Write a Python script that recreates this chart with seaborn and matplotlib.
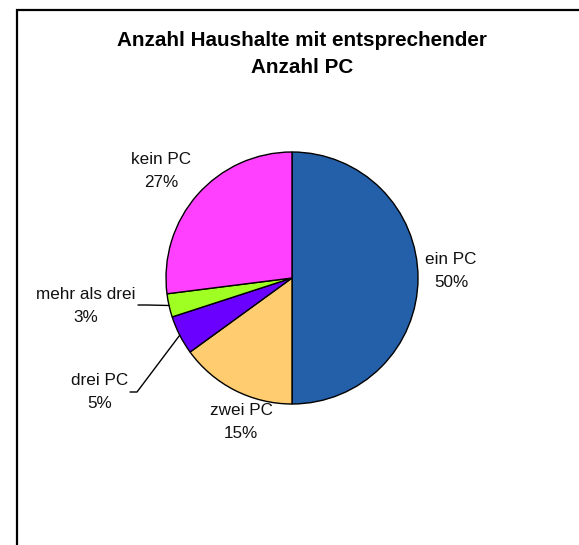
import numpy as np
import matplotlib
matplotlib.use("Agg")
import matplotlib.pyplot as plt
import matplotlib.patches as mpatches
import seaborn as sns

categories = ["ein PC", "zwei PC", "drei PC", "mehr als drei", "kein PC"]
values = [50, 15, 5, 3, 27]
pct_labels = ["50%", "15%", "5%", "3%", "27%"]
colors = ["#2460AA", "#FFCC70", "#6A00FF", "#A0FF22", "#FF40FF"]
title = "Anzahl Haushalte mit entsprechender\nAnzahl PC"

sns.set_theme(style="white")
plt.rcParams['font.family'] = ['Liberation Sans', 'DejaVu Sans']

W, H = 579, 545
fig = plt.figure(figsize=(W / 100, H / 100), dpi=100)
ax = fig.add_axes([0, 0, 1, 1])
ax.set_xlim(0, W)
ax.set_ylim(0, H)
ax.set_aspect('equal')
ax.axis('off')

cx, cy, r = 292, H - 278, 126
wedges, _ = ax.pie(values, colors=colors, startangle=90, counterclock=False,
                   center=(cx, cy), radius=r, frame=True,
                   wedgeprops=dict(edgecolor="black", linewidth=1.0))
ax.set_xlim(0, W)
ax.set_ylim(0, H)
ax.axis('off')

# label positions (pixel coords, y from top)
label_pos = {
    "ein PC": (451, 271),
    "zwei PC": (241, 422),
    "drei PC": (100, 392),
    "mehr als drei": (86, 306),
    "kein PC": (161, 171),
}
fs = 12.3
for w, cat, pct in zip(wedges, categories, pct_labels):
    x, y = label_pos[cat]
    ax.text(x, H - y, f"{cat}\n{pct}", ha="center", va="center",
            fontsize=fs, linespacing=1.6, color="#111111")

# leader lines for small slices
leaders = {"mehr als drei": (138, 147, 305), "drei PC": (130, 137, 392)}
for w, cat in zip(wedges, categories):
    if cat in leaders:
        x0, x1, y0 = leaders[cat]
        mid = np.deg2rad((w.theta1 + w.theta2) / 2)
        ex, ey = cx + r * np.cos(mid), cy + r * np.sin(mid)
        ax.plot([x0, x1, ex], [H - y0, H - y0, ey], color="black", lw=1.0)

fig.text(302 / W, 1 - 54 / H, title, ha="center", va="center",
         fontsize=14.9, fontweight="bold", linespacing=1.55, color="black")

rect = mpatches.Rectangle((16.5 / W, -0.1), 1.2, 1 - 9.5 / H + 0.1,
                          transform=fig.transFigure, fill=False,
                          edgecolor="black", linewidth=1.6)
fig.patches.append(rect)

fig.savefig("out.png", dpi=100, facecolor="white")
